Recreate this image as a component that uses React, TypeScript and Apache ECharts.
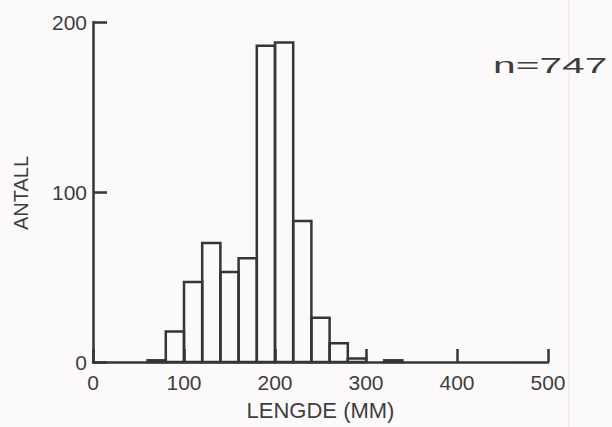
import React, { useEffect, useRef } from "react";
import * as echarts from "echarts";

// Histogram bins (mm) and counts
const binStarts = [60, 80, 100, 120, 140, 160, 180, 200, 220, 240, 260, 280, 320];
const binWidth = 20;
const counts = [1, 18, 47, 70, 53, 61, 186, 188, 83, 26, 11, 2, 1];
const xTicks = [0, 100, 200, 300, 400, 500];
const yTicks = [0, 100, 200];
const sampleLabel = "n=747";
const xTitle = "LENGDE (MM)";
const yTitle = "ANTALL";

const INK = "#353535";
const TEXT = "#3e3e3e";
const FONT = "Liberation Sans, Arial, sans-serif";

export default function App() {
  const ref = useRef<HTMLDivElement>(null);
  useEffect(() => {
    if (!ref.current) return;
    const chart = echarts.init(ref.current, undefined, { renderer: "svg" });
    const data = binStarts.map((s, i) => [s, s + binWidth, counts[i]]);
    chart.setOption({
      animation: false,
      backgroundColor: "#fcf9fb",
      textStyle: { fontFamily: FONT },
      grid: { left: 93, right: 64, top: 22, bottom: 65 },
      xAxis: {
        type: "value",
        min: xTicks[0],
        max: xTicks[xTicks.length - 1],
        interval: 100,
        name: xTitle,
        nameLocation: "middle",
        nameGap: 37,
        nameTextStyle: { fontSize: 22, color: TEXT },
        axisLine: { lineStyle: { color: INK, width: 2.5 } },
        axisTick: { inside: true, length: 13, lineStyle: { color: INK, width: 2.5 } },
        axisLabel: { fontSize: 21, color: TEXT, margin: 10 },
        splitLine: { show: false },
      },
      yAxis: {
        type: "value",
        min: yTicks[0],
        max: yTicks[yTicks.length - 1],
        interval: 100,
        axisLine: { show: true, lineStyle: { color: INK, width: 2.5 } },
        axisTick: { show: true, inside: true, length: 14, lineStyle: { color: INK, width: 2.5 } },
        axisLabel: { fontSize: 21, color: TEXT, margin: 6 },
        splitLine: { show: false },
      },
      graphic: [
        {
          type: "line",
          silent: true,
          z: -10,
          shape: { x1: 569, y1: 0, x2: 569, y2: 427 },
          style: { stroke: "#eadfe8", lineWidth: 1 },
        },
        {
          type: "text",
          x: 21,
          y: 193,
          rotation: Math.PI / 2,
          style: {
            text: yTitle,
            fontSize: 20,
            fill: TEXT,
            align: "center",
            verticalAlign: "middle",
            fontFamily: FONT,
          },
        },
        {
          type: "text",
          x: 493,
          y: 65,
          scaleX: 1.85,
          scaleY: 1,
          z: 10,
          style: {
            text: sampleLabel,
            fontSize: 22,
            fill: TEXT,
            align: "left",
            verticalAlign: "middle",
            fontFamily: FONT,
          },
        },
      ],
      series: [
        {
          type: "custom",
          data,
          encode: { x: [0, 1], y: 2 },
          renderItem: (params: any, api: any) => {
            const x0 = api.value(0);
            const x1 = api.value(1);
            const v = api.value(2);
            const p0 = api.coord([x0, v]);
            const p1 = api.coord([x1, 0]);
            return {
              type: "rect",
              shape: { x: p0[0], y: p0[1], width: p1[0] - p0[0], height: p1[1] - p0[1] },
              style: { fill: "none", stroke: INK, lineWidth: 2.5 },
            };
          },
        },
      ],
    });
    return () => chart.dispose();
  }, []);
  return (
    <div
      ref={ref}
      style={{ position: "absolute", left: 0, top: 0, width: 612, height: 427 }}
    />
  );
}
